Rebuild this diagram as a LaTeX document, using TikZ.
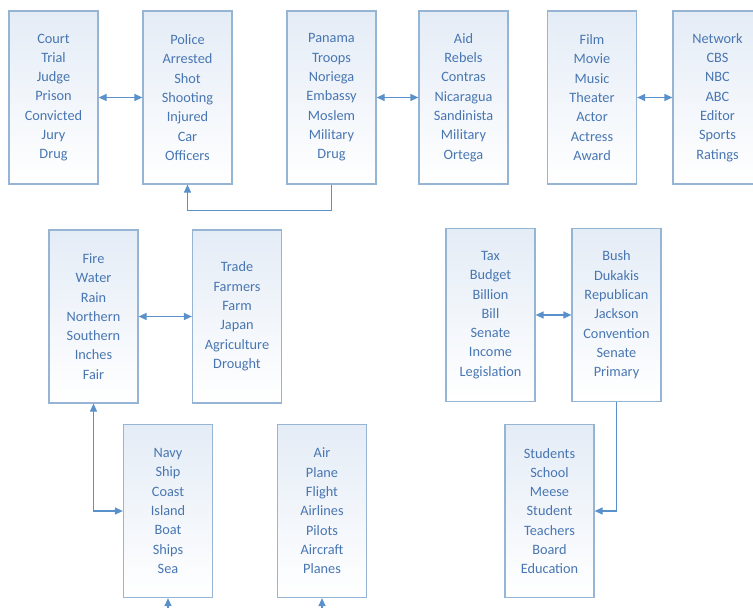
\documentclass[tikz,border=0pt]{standalone}
\usepackage{fontspec}
\setmainfont{Carlito}
\usetikzlibrary{arrows.meta}
\definecolor{boxline}{RGB}{150,180,212}
\definecolor{boxtext}{RGB}{72,118,178}
\definecolor{boxtop}{RGB}{228,236,246}
\definecolor{linkblue}{RGB}{90,145,202}

\begin{document}
\begin{tikzpicture}[x=1bp, y=-1bp,
	topic/.style={draw=boxline, line width=1.2bp, top color=boxtop, bottom color=white,
		text=boxtext, minimum width=89bp, minimum height=173bp, align=center,
		inner sep=0pt, font=\fontsize{14.3bp}{19.3bp}\selectfont},
	link/.style={draw=linkblue, line width=1.2bp},
	onetip/.style={link, -{Triangle[length=8bp,width=7bp]}},
	twotips/.style={link, {Triangle[length=8bp,width=7bp]}-{Triangle[length=8bp,width=7bp]}}]
	\useasboundingbox (0,0) rectangle (753,608);
	% top row
	\node[topic] (court)   at ( 53.5, 97.5) {Court\\Trial\\Judge\\Prison\\Convicted\\Jury\\Drug};
	\node[topic] (police)  at (187.5, 97.5) {Police\\Arrested\\Shot\\Shooting\\Injured\\Car\\Officers};
	\node[topic] (panama)  at (331.5, 97.5) {Panama\\Troops\\Noriega\\Embassy\\Moslem\\Military\\Drug};
	\node[topic] (aid)     at (463.5, 97.5) {Aid\\Rebels\\Contras\\Nicaragua\\Sandinista\\Military\\Ortega};
	\node[topic] (film)    at (592  , 97.5) {Film\\Movie\\Music\\Theater\\Actor\\Actress\\Award};
	\node[topic] (network) at (717.5, 97.5) {Network\\CBS\\NBC\\ABC\\Editor\\Sports\\Ratings};
	% middle row
	\node[topic] (fire)    at ( 93.5,316.5) {Fire\\Water\\Rain\\Northern\\Southern\\Inches\\Fair};
	\node[topic] (trade)   at (237  ,316.5) {Trade\\Farmers\\Farm\\Japan\\Agriculture\\Drought};
	\node[topic] (tax)     at (490.5,315  ) {Tax\\Budget\\Billion\\Bill\\Senate\\Income\\Legislation};
	\node[topic] (bush)    at (616.5,315  ) {Bush\\Dukakis\\Republican\\Jackson\\Convention\\Senate\\Primary};
	% bottom row
	\node[topic] (navy)     at (168  ,511) {Navy\\Ship\\Coast\\Island\\Boat\\Ships\\Sea};
	\node[topic] (air)      at (322  ,511) {Air\\Plane\\Flight\\Airlines\\Pilots\\Aircraft\\Planes};
	\node[topic] (students) at (549.5,511) {Students\\School\\Meese\\Student\\Teachers\\Board\\Education};
	\coordinate (navyfeed) at (168,630);
	\coordinate (airfeed)  at (322,630);
	% links
	\draw[twotips] (court) -- (police);
	\draw[twotips] (panama) -- (aid);
	\draw[twotips] (film) -- (network);
	\draw[twotips] (fire) -- (trade);
	\draw[twotips] (tax) -- (bush);
	\draw[onetip] (panama.south) -- ++(0,26) -| (police.south);
	\draw[twotips] (fire.south) |- (navy.west);
	\draw[onetip] (bush.south) |- (students.east);
	\draw[onetip] (navyfeed) -- (navy.south);
	\draw[onetip] (airfeed) -- (air.south);
\end{tikzpicture}
\end{document}
